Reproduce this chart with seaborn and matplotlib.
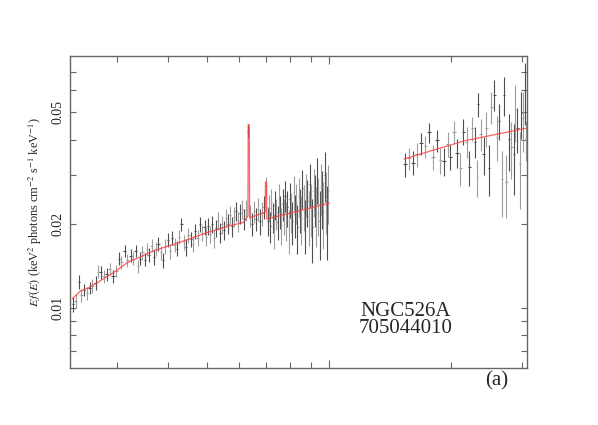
import numpy as np
import matplotlib
matplotlib.use("Agg")
import matplotlib.pyplot as plt
from matplotlib.ticker import NullFormatter
import seaborn as sns

# XIS spectrum (keV, flux in 1e-4 keV^2 photons cm^-2 s^-1 keV^-1)
xis_e = [2.329, 2.364, 2.410, 2.442, 2.479, 2.522, 2.559, 2.598, 2.649, 2.685, 2.725, 2.772,
         2.826, 2.868, 2.924, 2.980, 3.025, 3.065, 3.123, 3.171, 3.232, 3.276, 3.325,
         3.367, 3.411, 3.456, 3.502, 3.548, 3.595, 3.642, 3.690, 3.739, 3.788, 3.838, 3.888,
         3.940, 3.991, 4.044, 4.097, 4.151, 4.206, 4.261, 4.317, 4.374, 4.432, 4.490, 4.549,
         4.609, 4.670, 4.731, 4.794, 4.857, 4.921,
         4.970, 5.027, 5.084, 5.142, 5.201, 5.260, 5.320, 5.381, 5.443, 5.505, 5.568, 5.632,
         5.696, 5.761, 5.827, 5.894, 5.961, 6.029, 6.098, 6.168, 6.238, 6.310, 6.382, 6.455,
         6.528, 6.603, 6.678, 6.755, 6.832, 6.910, 6.989,
         7.048, 7.098, 7.148, 7.199, 7.250, 7.301, 7.352, 7.404, 7.457, 7.509, 7.563, 7.616,
         7.670, 7.724, 7.779, 7.834, 7.889, 7.945, 8.001, 8.058, 8.115, 8.172, 8.230, 8.288,
         8.347, 8.406, 8.465, 8.525, 8.585, 8.646, 8.707, 8.769, 8.831, 8.893, 8.956, 9.019,
         9.083, 9.147, 9.212, 9.277, 9.343, 9.409, 9.475, 9.542, 9.610, 9.678, 9.746, 9.815,
         9.885, 9.955]
xis_f = [103, 106, 124, 111, 116, 113, 118, 120, 123, 135, 134, 130,
         132, 138, 130, 136, 150, 146, 160, 148, 154, 150, 160,
         141, 150, 158, 149, 162, 155, 167, 152, 163, 170, 158, 148,
         166, 175, 160, 178, 168, 163, 180, 199, 172, 165, 182, 176,
         170, 188, 178, 199, 186, 194,
         180, 196, 184, 200, 178, 193, 205, 186, 199, 190, 210, 200,
         215, 196, 212, 222, 204, 218, 226, 208, 224, 430, 214, 200,
         222, 208, 226, 204, 218, 230, 272,
         205, 228, 196, 240, 212, 190, 234, 218, 203, 248, 221, 198,
         236, 214, 252, 207, 229, 190, 245, 222, 204, 260, 216, 238,
         195, 251, 226, 210, 268, 232, 200, 256, 241, 214, 278, 228,
         195, 262, 247, 218, 290, 236, 205, 270, 250, 222, 300, 245,
         210, 262]
xis_err = [6, 6, 7, 6, 6, 6, 6, 7, 7, 7, 7, 7,
           7, 7, 7, 7, 8, 8, 8, 8, 8, 8, 8,
           8, 8, 9, 8, 9, 9, 9, 9, 9, 10, 9, 9,
           10, 10, 10, 10, 10, 10, 10, 11, 11, 11, 11, 11,
           11, 12, 12, 12, 12, 12,
           13, 14, 13, 14, 14, 14, 15, 15, 15, 15, 16, 16,
           16, 16, 17, 17, 17, 18, 18, 18, 19, 20, 19, 19,
           20, 20, 21, 21, 22, 22, 22,
           24, 25, 25, 26, 26, 27, 27, 28, 28, 29, 30, 30,
           31, 32, 32, 33, 34, 34, 35, 36, 36, 37, 38, 39,
           39, 40, 41, 42, 43, 43, 44, 45, 46, 47, 48, 49,
           50, 51, 52, 53, 54, 55, 56, 57, 58, 59, 60, 61,
           62, 63]

# PIN spectrum
pin_e = [15.38, 15.76, 16.12, 16.52, 16.90, 17.29, 17.66, 18.06, 18.45, 18.83, 19.20,
         19.60, 19.93, 20.32, 20.70, 21.10, 21.46, 21.88, 22.17, 22.55, 22.90, 23.24,
         23.33, 23.69, 24.10, 24.46, 24.84, 25.16, 25.55, 25.99, 26.29, 26.74, 27.05,
         27.40, 27.82, 28.19, 28.62, 28.84, 29.17, 29.57, 29.84, 30.13, 30.42, 30.60]
pin_f = [326, 343, 331, 354, 388, 379, 425, 347, 397, 338, 335,
         386, 347, 425, 359, 316, 427, 393, 318, 439, 393, 294,
         536, 418, 354, 439, 317, 523, 579, 410, 467, 288, 576,
         281, 401, 375, 354, 511, 439, 326, 498, 477, 600, 401]
pin_err = [32, 31, 33, 34, 35, 34, 35, 36, 36, 36, 39,
           40, 36, 40, 43, 42, 46, 49, 46, 44, 49, 44,
           53, 55, 56, 62, 66, 69, 72, 75, 68, 76, 91,
           72, 91, 87, 100, 118, 80, 100, 95, 115, 149, 66]

# best-fit model
model_e = [2.32, 2.43, 2.54, 2.72, 2.96, 3.17, 3.68, 4.29, 5.00, 5.69, 6.13, 6.24,
           6.30, 6.31, 6.35, 6.36, 6.95, 6.96, 7.00, 7.01, 8.48, 10.0]
model_f = [108, 115, 118, 125, 135, 145, 160, 172, 186, 197, 202, 209,
           214, 452, 452, 210, 220, 282, 282, 208, 223, 237]
pin_model_e = [15.3, 21.6, 30.6]
pin_model_f = [341, 396, 439]

sns.set_theme(style="ticks")
plt.rcParams["font.family"] = ["Liberation Serif", "DejaVu Serif"]
plt.rcParams["mathtext.fontset"] = "stix"

fig = plt.figure(figsize=(5.98, 4.25), dpi=100)
ax = fig.add_axes([70 / 598, 1 - 368 / 425, 457 / 598, 312 / 425])
ax.set_xscale("log")
ax.set_yscale("log")

def draw_spec(e, f, err):
    e = np.array(e)
    f = np.array(f) * 1e-4
    err = np.array(err) * 1e-4
    dx = np.gradient(e) / 2
    for k, col in [(0, "#4e4e4e"), (1, "#9e9e9e")]:
        ax.errorbar(e[k::2], f[k::2], xerr=dx[k::2], yerr=err[k::2], fmt="none",
                    ecolor=col, elinewidth=0.8, capsize=0)

draw_spec(xis_e, xis_f, xis_err)
draw_spec(pin_e, pin_f, pin_err)

sns.lineplot(x=model_e, y=np.array(model_f) * 1e-4, ax=ax, color="#ff3b3b",
             lw=0.9, alpha=0.8, estimator=None, sort=False)
sns.lineplot(x=pin_model_e, y=np.array(pin_model_f) * 1e-4, ax=ax, color="#ff3b3b",
             lw=0.9, alpha=0.8, estimator=None, sort=False)

ax.set_xlim(2.29, 30.8)
ax.set_ylim(0.0061, 0.0796)
ax.xaxis.set_major_formatter(NullFormatter())
ax.xaxis.set_minor_formatter(NullFormatter())
ax.set_yticks([0.01, 0.02, 0.05])
ax.set_yticks([0.007, 0.008, 0.009, 0.03, 0.04, 0.06, 0.07], minor=True)
ax.set_yticklabels(["0.01", "0.02", "0.05"], rotation=90, va="center", fontsize=10)
ax.yaxis.set_minor_formatter(NullFormatter())
ax.tick_params(which="both", direction="in", top=True, right=True, color="#666666",
               width=0.8)
ax.tick_params(axis="x", which="major", length=6)
ax.tick_params(axis="x", which="minor", length=4)
ax.tick_params(axis="y", which="both", length=4, pad=4)
for s in ax.spines.values():
    s.set_color("#666666")
    s.set_linewidth(1.0)

ax.set_ylabel(r"$E\,f(E)$ (keV$^2$ photons cm$^{-2}$ s$^{-1}$ keV$^{-1}$)", fontsize=8.8,
              labelpad=5)

fig.text(406 / 598, 1 - 320 / 425, "NGC526A\n705044010", ha="center", va="center",
         fontsize=15, linespacing=0.85)
fig.text(497 / 598, 1 - 381 / 425, "(a)", ha="center", va="center", fontsize=15)

fig.savefig("out.png", dpi=100)
